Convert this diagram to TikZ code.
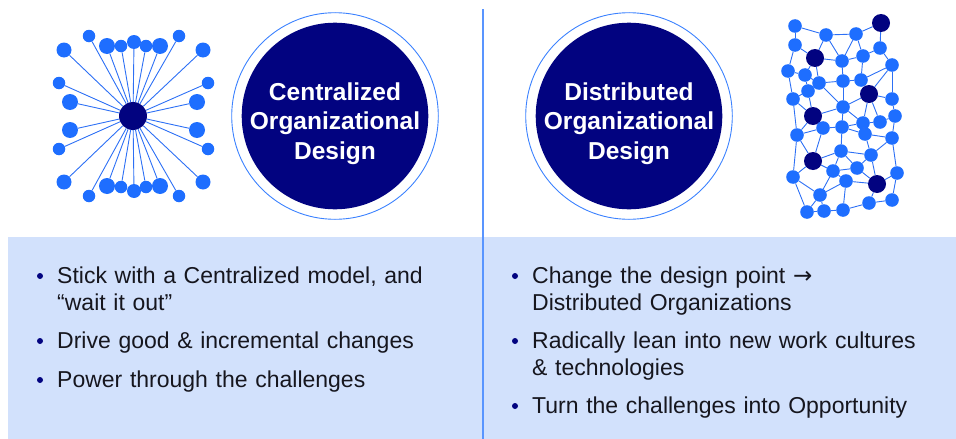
\documentclass[tikz,border=0pt]{standalone}
\usepackage{fontspec}
\setmainfont{Liberation Sans}
\newfontfamily\arrowfont{DejaVu Sans}
\usetikzlibrary{positioning}
\definecolor{navy}{RGB}{2,3,128}
\definecolor{nodeblue}{RGB}{30,110,255}
\definecolor{edgeblue}{RGB}{45,112,245}
\definecolor{ringblue}{RGB}{60,130,255}
\definecolor{bandblue}{RGB}{210,225,252}
\definecolor{ink}{RGB}{22,22,30}
\tikzstyle{leaf}=[circle,fill=nodeblue,inner sep=0pt]
\tikzstyle{hub}=[circle,fill=navy,inner sep=0pt]
\tikzstyle{link}=[edgeblue,line width=0.9pt]
\tikzstyle{ring}=[circle,draw=ringblue,line width=0.9pt,inner sep=0pt,minimum size=206.6pt]
\tikzstyle{disc}=[circle,fill=navy,inner sep=0pt,minimum size=186.6pt]
\tikzstyle{title}=[text=white,align=center,inner sep=0pt,text width=200pt,
  font=\fontsize{24.5}{29.5}\bfseries\selectfont]
\tikzstyle{item}=[text=ink,align=left,inner sep=0pt,text width=420pt,
  font=\fontsize{23}{27}\selectfont]
\tikzstyle{dot}=[circle,fill=navy,inner sep=0pt,minimum size=6pt]

\begin{document}
\begin{tikzpicture}[x=1pt, y=-1pt]
  \useasboundingbox (0,0) rectangle (956,439);
  \fill[bandblue] (8,237) rectangle (956,439);
  \coordinate (divtop) at (483,9);
  \coordinate (divbot) at (483,439);
  \draw[ringblue!85,line width=1.1pt] (divtop) -- (divbot);

  % centralized star
  \node[hub, minimum size=28pt] (core) at (133,116) {};
  \foreach \n/\x/\y/\s in {1/89/36/12.5, 2/107/46/16, 3/121/46/12.5, 4/134/42/14,
      5/146/46/12.5, 6/160/46/16, 7/179/36/12.5, 8/64/50/15, 9/203/50/15,
      10/59/83/12.5, 11/70/102/16, 12/70/130/16, 13/59/149/12.5,
      14/208/83/12.5, 15/197/102/16, 16/197/130/16, 17/208/149/12.5,
      18/64/182/15, 19/203/182/15, 20/89/196/12.5, 21/107/186/16,
      22/121/187/12.5, 23/134/191/14, 24/146/187/12.5, 25/160/186/16, 26/179/196/12.5}
  {
    \node[leaf, minimum size=\s pt] (s\n) at (\x,\y) {};
    \draw[link] (core) -- (s\n);
  }

  % title circles
  \node[ring] (cring) at (335,116) {};
  \node[disc] (cdisc) at (cring) {};
  \node[title, anchor=base] (ctitle) at (335,100) {Centralized\\Organizational\\Design};
  \node[ring] (dring) at (629,116) {};
  \node[disc] (ddisc) at (dring) {};
  \node[title, anchor=base] (dtitle) at (629,100) {Distributed\\Organizational\\Design};

  % distributed mesh
  \foreach \n/\x/\y in {1/795/26, 3/826/35, 4/856/34, 5/795/45, 7/880/48,
      8/842/61, 9/863/56, 10/892/65, 11/788/71, 12/805/75, 13/819/83,
      14/843/81, 15/861/80, 16/808/91, 18/793/99, 19/892/99, 20/843/107,
      22/895/116, 23/863/123, 24/880/122, 25/823/128, 26/842/127,
      27/797/135, 28/865/134, 29/892/138, 30/841/151, 32/871/155,
      33/833/171, 34/857/168, 35/793/177, 36/897/173, 37/846/181,
      39/820/195, 40/807/212, 41/824/211, 42/843/210, 43/869/203, 44/892/200}
    \node[leaf, minimum size=13.6pt] (d\n) at (\x,\y) {};
  \foreach \n/\x/\y in {2/881/23, 6/815/58, 17/869/94, 21/813/116, 31/813/161, 38/877/184}
    \node[hub, minimum size=18pt] (d\n) at (\x,\y) {};
  \foreach \a/\b in {1/3, 1/5, 3/4, 4/2, 3/6, 3/8, 4/8, 4/9, 2/7, 7/9, 7/10,
      5/6, 5/11, 6/8, 6/12, 6/13, 8/9, 8/14, 9/15, 10/15, 10/17, 10/19,
      11/12, 11/18, 12/13, 12/16, 13/14, 14/15, 13/20, 14/20, 15/17,
      16/18, 16/21, 13/16, 17/19, 17/20, 17/23, 17/24, 18/21, 18/27,
      19/22, 20/21, 20/26, 20/23, 21/25, 21/27, 22/24, 22/29, 23/24,
      23/28, 23/26, 25/26, 25/27, 25/31, 26/30, 26/28, 27/31, 27/35,
      28/29, 28/32, 29/32, 29/36, 30/31, 30/33, 30/34, 30/32, 31/33,
      31/35, 32/34, 32/38, 33/34, 33/37, 33/39, 34/38, 35/39, 35/40,
      36/38, 36/44, 37/38, 37/39, 37/42, 38/43, 39/40, 39/41, 40/41,
      41/42, 42/43, 43/44}
    \draw[link] (d\a) -- (d\b);

  % bullet lists
  \node[dot] (lb1) at (40,276) {};
  \node[item, anchor=base west] (li1) at (57,283) {Stick with a Centralized model, and\\“wait it out”};
  \node[dot] (lb2) at (40,341) {};
  \node[item, anchor=base west] (li2) at (57,348) {Drive good \& incremental changes};
  \node[dot] (lb3) at (40,380) {};
  \node[item, anchor=base west] (li3) at (57,387) {Power through the challenges};

  \node[dot] (rb1) at (515,276) {};
  \node[item, anchor=base west] (ri1) at (532,283) {Change the design point {\arrowfont →}\\Distributed Organizations};
  \node[dot] (rb2) at (515,341) {};
  \node[item, anchor=base west] (ri2) at (532,348) {Radically lean into new work cultures\\\& technologies};
  \node[dot] (rb3) at (515,406) {};
  \node[item, anchor=base west] (ri3) at (532,413) {Turn the challenges into Opportunity};
\end{tikzpicture}
\end{document}
